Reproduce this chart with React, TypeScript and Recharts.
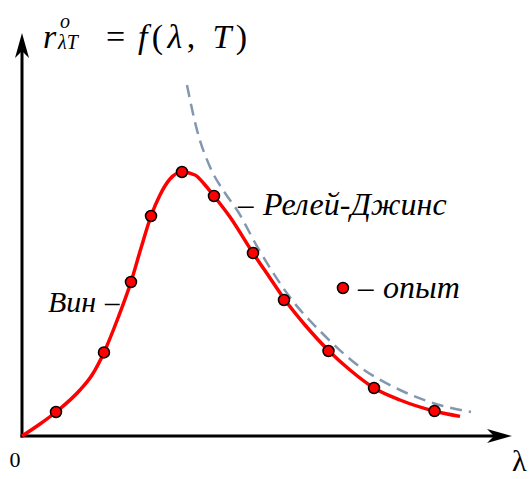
import React from 'react';
import { ComposedChart, Line, Scatter, XAxis, YAxis, ReferenceLine, ReferenceDot, Customized } from 'recharts';

// Planck curve r(λ,T), solid red
const planckLambda = [0, 3.67, 6.94, 11.84, 14.29, 16.73, 19.59, 22.24, 24.29, 26.33, 28.16, 30.2, 32.65, 35.31, 37.35, 39.18, 42.45, 47.14, 50.61, 53.67, 57.76, 62.65, 66.94, 71.84, 77.14, 84.08, 89.39];
const planckValue = [0, 3, 6, 11.5, 15.25, 20.9, 29.5, 38.5, 47, 55, 60.25, 64.25, 66, 65.25, 62.75, 60, 54.75, 45.75, 39.5, 34, 27.75, 21.25, 16.5, 12, 9, 6.25, 4.9];

// Rayleigh-Jeans curve, dashed
const rjLambda = [33.67, 35.71, 38.37, 41.43, 43.88, 48.16, 55.1, 61.22, 68.98, 77.14, 85.92, 91.63];
const rjValue = [87.75, 76.5, 67.25, 60.75, 56.5, 47, 34, 25.75, 17.25, 11.5, 7.5, 6];

// measured points
const expLambda = [6.94, 16.73, 22.24, 26.33, 32.65, 39.18, 47.14, 53.47, 62.55, 71.84, 84.18];
const expValue = [6, 20.9, 38.5, 55, 66, 60, 45.75, 34, 21.25, 12, 6.25];

const planckData = planckLambda.map((x, i) => ({ x, y: planckValue[i] }));
const rjData = rjLambda.map((x, i) => ({ x, y: rjValue[i] }));
const expData = expLambda.map((x, i) => ({ x, y: expValue[i] }));

const SERIF = '"Liberation Serif", "Times New Roman", serif';
const RED = '#ff0000';

// axis line with a notched arrow head at (x2, y2)
const Arrow = (props: any) => {
  const { x1, y1, x2, y2 } = props;
  const len = Math.hypot(x2 - x1, y2 - y1);
  const ux = (x2 - x1) / len;
  const uy = (y2 - y1) / len;
  const px = -uy;
  const py = ux;
  const head = 25;
  const half = 7;
  const notch = 18;
  const bx = x2 - ux * head;
  const by = y2 - uy * head;
  const nx = x2 - ux * notch;
  const ny = y2 - uy * notch;
  return (
    <g>
      <line x1={x1} y1={y1} x2={nx} y2={ny} stroke="#000" strokeWidth={3} strokeLinecap="square" />
      <path
        d={`M${x2},${y2} L${bx + px * half},${by + py * half} L${nx},${ny} L${bx - px * half},${by - py * half} Z`}
        fill="#000"
      />
    </g>
  );
};

const Dot = (props: any) => (
  <circle cx={props.cx} cy={props.cy} r={5.5} fill={RED} stroke="#000" strokeWidth={1.5} />
);

const Annotations = () => (
  <g fontFamily={SERIF} fill="#000">
    <text x={43} y={48} fontSize={34} fontStyle="italic">r</text>
    <text x={60} y={28} fontSize={20} fontStyle="italic">o</text>
    <text x={58} y={49} fontSize={20} fontStyle="italic">λT</text>
    <text x={115.5} y={48} fontSize={34} textAnchor="middle">=</text>
    <text x={138} y={48} fontSize={34} textLength={109} lengthAdjust="spacing">
      <tspan fontStyle="italic">f</tspan>(<tspan fontStyle="italic">λ</tspan>, <tspan fontStyle="italic">T</tspan>)
    </text>

    <text x={15} y={467} fontSize={22} textAnchor="middle">0</text>
    <text x={512} y={471} fontSize={30}>λ</text>

    <text x={48} y={312} fontSize={30} fontStyle="italic">Вин</text>
    <text x={105} y={312} fontSize={29}>–</text>

    <text x={238} y={215} fontSize={31}>–</text>
    <text x={263} y={215} fontSize={32} fontStyle="italic">Релей-Джинс</text>

    <text x={358} y={298} fontSize={31}>–</text>
    <text x={383} y={298} fontSize={32} fontStyle="italic">опыт</text>
  </g>
);

export default function App() {
  return (
    <div>
      <style>{'body { margin: 0; }'}</style>
      <ComposedChart width={532} height={479} margin={{ top: 32, right: 20, bottom: 43, left: 22 }}>
        <XAxis type="number" dataKey="x" domain={[0, 100]} hide />
        <YAxis type="number" dataKey="y" domain={[0, 101]} hide />

        <ReferenceLine segment={[{ x: 0, y: 0 }, { x: 100, y: 0 }]} shape={Arrow} ifOverflow="visible" />
        <ReferenceLine segment={[{ x: 0, y: 0 }, { x: 0, y: 100.75 }]} shape={Arrow} ifOverflow="visible" />

        <Line
          data={planckData}
          dataKey="y"
          type="monotone"
          stroke={RED}
          strokeWidth={3.5}
          dot={false}
          activeDot={false}
          isAnimationActive={false}
        />
        <Line
          data={rjData}
          dataKey="y"
          type="monotone"
          stroke="#8497b0"
          strokeWidth={2.5}
          strokeDasharray="12 7"
          dot={false}
          activeDot={false}
          isAnimationActive={false}
        />
        <Scatter data={expData} dataKey="y" shape={Dot} isAnimationActive={false} />

        <ReferenceDot x={65.5} y={37} r={5.5} fill={RED} stroke="#000" strokeWidth={1.5} ifOverflow="visible" />

        <Customized component={Annotations} />
      </ComposedChart>
    </div>
  );
}
